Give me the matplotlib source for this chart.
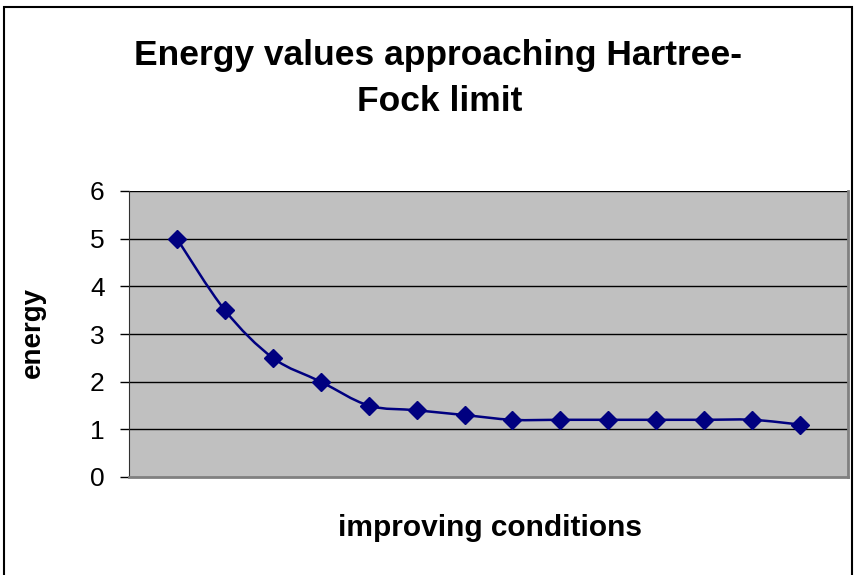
import numpy as np
import matplotlib.pyplot as plt
from matplotlib.path import Path
from matplotlib.patches import PathPatch, Rectangle

plt.rcParams['font.family'] = ['Liberation Sans', 'DejaVu Sans']

# data
kondisi = np.arange(1, 15)
energi = [5.0, 3.5, 2.5, 2.0, 1.5, 1.4, 1.3, 1.2, 1.2, 1.2, 1.2, 1.2, 1.2, 1.1]
y_ticks = [0, 1, 2, 3, 4, 5, 6]


# garis halus ala Excel (bezier dari titik data)
def smooth_path(x, y):
    pts = np.column_stack([x, y]).astype(float)
    verts = [pts[0]]
    codes = [Path.MOVETO]
    n = len(pts)
    for i in range(n - 1):
        p0 = pts[i - 1] if i > 0 else pts[i]
        p1 = pts[i]
        p2 = pts[i + 1]
        p3 = pts[i + 2] if i + 2 < n else pts[i + 1]
        c1 = p1 + (p2 - p0) / 6
        c2 = p2 - (p3 - p1) / 6
        verts += [c1, c2, p2]
        codes += [Path.CURVE4] * 3
    return Path(verts, codes)


W, H = 857, 575
fig = plt.figure(figsize=(W / 100, H / 100), dpi=100)
ax = fig.add_axes([129 / W, 1 - 477 / H, (848 - 129) / W, (477 - 191) / H])
ax.set_facecolor('#c0c0c0')

ax.add_patch(PathPatch(smooth_path(kondisi, energi), facecolor='none',
                       edgecolor='#000080', lw=1.8, zorder=3))
ax.plot(kondisi, energi, linestyle='none', marker='D', markersize=9.5,
        color='#000080', zorder=4)

ax.set_xlim(0, 15)
ax.set_ylim(0, 6)
ax.set_yticks(y_ticks)
ax.set_xticks([])
ax.tick_params(axis='y', direction='out', length=6.5, width=1, labelsize=19, pad=11)
for y in y_ticks[1:]:
    ax.axhline(y, color='black', lw=1, zorder=1)

ax.spines['top'].set_visible(False)
ax.spines['left'].set_color('#303030')
ax.spines['bottom'].set_color('#808080')
ax.spines['right'].set_color('#808080')
ax.spines['bottom'].set_linewidth(2)
ax.spines['right'].set_linewidth(2)

# label sumbu
fig.text(33 / W, 1 - 333 / H, 'energy', rotation=90, ha='center', va='center',
         fontsize=20, fontweight='bold')
fig.text(490 / W, 1 - 536 / H, 'improving conditions', ha='center', va='baseline',
         fontsize=21.5, fontweight='bold')

# judul
fig.text(438 / W, 1 - 65 / H, 'Energy values approaching Hartree-',
         ha='center', va='baseline', fontsize=25.5, fontweight='bold')
fig.text(440 / W, 1 - 111 / H, 'Fock limit',
         ha='center', va='baseline', fontsize=25.5, fontweight='bold')

# bingkai luar
fig.patches.append(Rectangle((4 / W, -0.01), 848 / W, 1 - 7 / H + 0.01,
                             transform=fig.transFigure, fill=False,
                             edgecolor='black', lw=1.5))

fig.savefig('out.png', dpi=100)
